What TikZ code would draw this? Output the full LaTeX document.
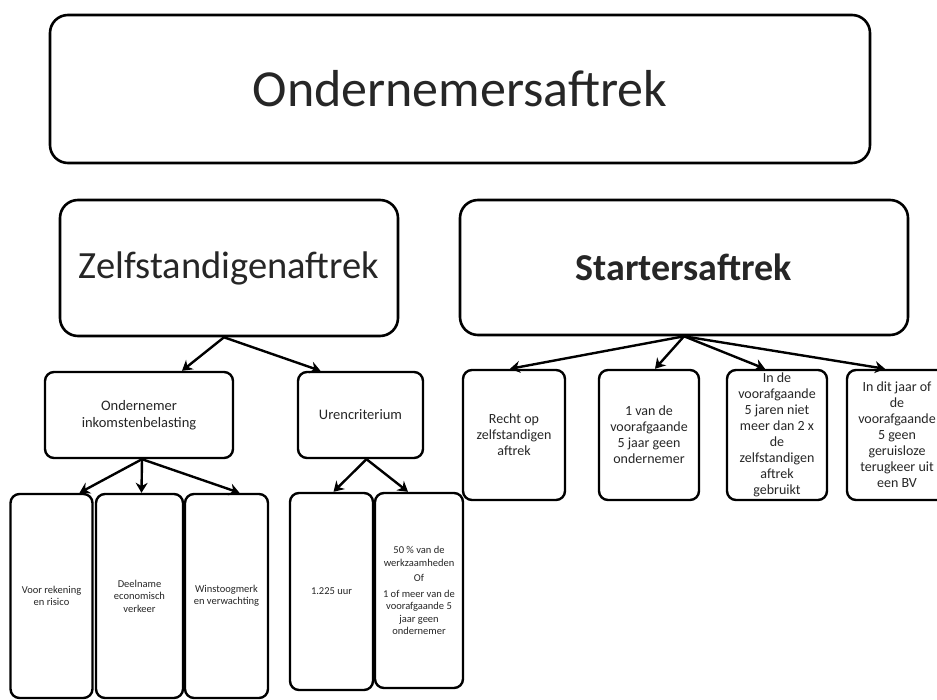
\documentclass[tikz,border=0pt]{standalone}
\usepackage{fontspec}
\setmainfont{Carlito}
\usetikzlibrary{arrows.meta}
\begin{document}
\begin{tikzpicture}[x=1pt,y=-1pt,
 box/.style={draw=black, line width=2.6pt, rounded corners=18pt, align=center, inner sep=0pt, text=black!85},
 sbox/.style={draw=black, line width=2.4pt, rounded corners=9pt, align=center, inner sep=0pt, text=black!85},
 arr/.style={line width=2.4pt, -{Stealth[length=10pt,width=12pt]}},
 bigtxt/.style={font=\fontsize{38.5}{44}\selectfont},
 midtxt/.style={font=\fontsize{14}{16}\selectfont},
 smalltxt/.style={font=\fontsize{10.5}{12.5}\selectfont}]
\useasboundingbox (0,0) rectangle (937,700);
\clip (0,0) rectangle (937,700);
\fill[white] (0,0) rectangle (937,700);

\node[box, minimum width=820pt, minimum height=148pt, font=\fontsize{52}{60}\selectfont] (top) at (460,89) {Ondernemersaftrek};
\node[box, minimum width=338pt, minimum height=136pt, bigtxt] (zelf) at (229,268) {Zelfstandigenaftrek};
\node[box, minimum width=448pt, minimum height=135pt, font=\fontsize{38}{44}\selectfont\bfseries] (start) at (684,267.5) {Startersaftrek};

\node[sbox, minimum width=188pt, minimum height=86pt, font=\fontsize{14.5}{17}\selectfont] (oib) at (139,415) {Ondernemer\\inkomstenbelasting};
\node[sbox, minimum width=125pt, minimum height=86pt, font=\fontsize{14.5}{17}\selectfont] (uren) at (360.5,415) {Urencriterium};

\node[sbox, minimum width=82pt, minimum height=204pt, smalltxt] (b1) at (51.5,596) {Voor rekening\\en risico};
\node[sbox, minimum width=87pt, minimum height=204pt, smalltxt] (b2) at (139.5,596) {Deelname\\economisch\\verkeer};
\node[sbox, minimum width=83pt, minimum height=204pt, smalltxt] (b3) at (226.5,596) {Winstoogmerk\\en verwachting};

\node[sbox, minimum width=83pt, minimum height=197pt, smalltxt] (u1) at (331.5,591.5) {1.225 uur};
\node[sbox, minimum width=88pt, minimum height=195pt, smalltxt] (u2) at (419,590.5) {50 \% van de\\werkzaamheden\\[3pt]Of\\[3pt]1 of meer van de\\voorafgaande 5\\jaar geen\\ondernemer};

\node[sbox, minimum width=102pt, minimum height=130pt, midtxt] (s1) at (514,435) {Recht op\\zelfstandigen\\aftrek};
\node[sbox, minimum width=100pt, minimum height=130pt, midtxt] (s2) at (649,435) {1 van de\\voorafgaande\\5 jaar geen\\ondernemer};
\node[sbox, minimum width=100pt, minimum height=130pt, midtxt] (s3) at (777,435) {In de\\voorafgaande\\5 jaren niet\\meer dan 2 x\\de\\zelfstandigen\\aftrek\\gebruikt};
\node[sbox, minimum width=100pt, minimum height=130pt, midtxt] (s4) at (897,435) {In dit jaar of\\de\\voorafgaande\\5 geen\\geruisloze\\terugkeer uit\\een BV};

\draw[arr] ([xshift=-5pt]zelf.south) -- ([xshift=43pt]oib.north);
\draw[arr] ([xshift=-5pt]zelf.south) -- ([xshift=-40pt]uren.north);

\draw[arr] ([xshift=3pt]oib.south) -- ([xshift=28pt]b1.north);
\draw[arr] ([xshift=3pt]oib.south) -- ([xshift=2pt]b2.north);
\draw[arr] ([xshift=3pt]oib.south) -- ([xshift=13pt]b3.north);

\draw[arr] ([xshift=6pt]uren.south) -- ([xshift=2pt]u1.north);
\draw[arr] ([xshift=6pt]uren.south) -- ([xshift=-11pt]u2.north);

\draw[arr] (start.south) -- ([xshift=-4pt]s1.north);
\draw[arr] (start.south) -- ([xshift=6pt]s2.north);
\draw[arr] (start.south) -- ([xshift=-12pt]s3.north);
\draw[arr] (start.south) -- ([xshift=-12pt]s4.north);
\end{tikzpicture}
\end{document}
